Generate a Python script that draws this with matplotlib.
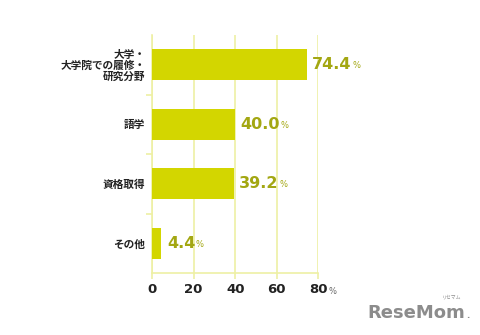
import matplotlib.pyplot as plt
import numpy as np

# survey answers, top to bottom
categories = ["大学・\n大学院での履修・\n研究分野", "語学", "資格取得", "その他"]
values = [74.4, 40.0, 39.2, 4.4]
xticks = [0, 20, 40, 60, 80]
xticklabels = ["0", "20", "40", "60", "80"]

bar_color = "#d3d600"
label_color = "#a3a712"
grid_color = "#eef0a4"
text_color = "#222222"

jp = ["Noto Sans CJK JP", "DejaVu Sans"]

fig = plt.figure(figsize=(4.8, 3.35), dpi=100)
ax = fig.add_axes([0.317, 0.185, 0.346, 0.710])

y = np.arange(len(categories))
ax.barh(y, values, height=0.52, color=bar_color, zorder=3)

ax.set_ylim(3.5, -0.5)
ax.set_xlim(0, 80)

# grid + axes lines in pale yellow
ax.set_xticks(xticks)
ax.set_xticklabels(xticklabels, fontweight="bold", fontsize=9.5,
                   color=text_color, family="DejaVu Sans")
ax.xaxis.grid(True, color=grid_color, linewidth=1.2, zorder=0)
ax.tick_params(axis="x", length=4, width=1.2, color=grid_color, pad=3)

ax.set_yticks(y)
ax.set_yticklabels(categories, family=jp, fontweight="bold", fontsize=7.7,
                   color=text_color, linespacing=1.05)
ax.set_yticks([0.5, 1.5, 2.5], minor=True)
ax.tick_params(axis="y", which="major", length=0, pad=5)
ax.tick_params(axis="y", which="minor", length=4, width=1.2, color=grid_color)

for side in ["top", "right"]:
    ax.spines[side].set_visible(False)
for side in ["left", "bottom"]:
    ax.spines[side].set_color(grid_color)
    ax.spines[side].set_linewidth(1.2)

# small % after the last tick label
ax.annotate("%", xy=(80, 0), xycoords=("data", "axes fraction"),
            xytext=(7.5, -13.5), textcoords="offset points",
            fontsize=6, color="#666666", va="center", ha="left")

# value labels with a small percent sign
for yi, v in zip(y, values):
    t = ax.annotate(f"{v:.1f}", xy=(v, yi), xytext=(4, 0),
                    textcoords="offset points", fontsize=11.5,
                    fontweight="bold", color=label_color,
                    va="center", ha="left", family="DejaVu Sans")
    ax.annotate("%", xy=(1, 0), xycoords=t, xytext=(0.5, 1.5),
                textcoords="offset points", fontsize=6,
                color=label_color, va="bottom", ha="left")

# site logo
logo = fig.text(0.765, 0.052, "ReseMom", fontsize=13, fontweight="bold",
                color="#8c8c8c", family="DejaVu Sans")
fig.text(0.962, 0.108, "リセマム", fontsize=3.5, color="#8c8c8c",
         family=jp, ha="right")
fig.text(0.972, 0.052, ".", fontsize=6, fontweight="bold", color="#8c8c8c")

fig.savefig("out.png", dpi=100)
